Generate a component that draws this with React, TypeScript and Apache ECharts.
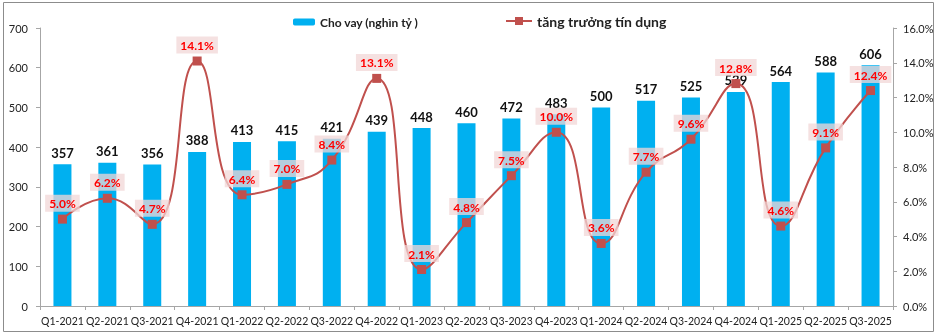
import React, { useEffect, useRef } from "react";
import * as echarts from "echarts";

const categories = [
  "Q1-2021", "Q2-2021", "Q3-2021", "Q4-2021",
  "Q1-2022", "Q2-2022", "Q3-2022", "Q4-2022",
  "Q1-2023", "Q2-2023", "Q3-2023", "Q4-2023",
  "Q1-2024", "Q2-2024", "Q3-2024", "Q4-2024",
  "Q1-2025", "Q2-2025", "Q3-2025",
];
const loans = [357, 361, 356, 388, 413, 415, 421, 439, 448, 460, 472, 483, 500, 517, 525, 539, 564, 588, 606];
const growth = [5.0, 6.2, 4.7, 14.1, 6.4, 7.0, 8.4, 13.1, 2.1, 4.8, 7.5, 10.0, 3.6, 7.7, 9.6, 12.8, 4.6, 9.1, 12.4];
const barName = "Cho vay (nghìn tỷ )";
const lineName = "tăng trưởng tín dụng";

const FONT = "Lato, 'Noto Sans', sans-serif";

export default function App() {
  const ref = useRef<HTMLDivElement>(null);
  useEffect(() => {
    const chart = echarts.init(ref.current!, null, { renderer: "svg" });
    chart.setOption({
      animation: false,
      textStyle: { fontFamily: FONT },
      graphic: [
        {
          type: "rect",
          shape: { x: 3.5, y: 2.5, width: 930, height: 329 },
          style: { fill: "none", stroke: "#8c8c8c", lineWidth: 1 },
          silent: true,
        },
      ],
      legend: [
        {
          data: [barName],
          left: 288,
          top: 11,
          itemWidth: 22,
          itemHeight: 7,
          itemGap: 4,
          textStyle: { fontSize: 12, fontWeight: "bold", color: "#222", fontFamily: FONT },
        },
        {
          data: [lineName],
          left: 500,
          top: 9,
          itemWidth: 26,
          itemHeight: 10,
          textStyle: { fontSize: 14, fontWeight: "bold", color: "#222", fontFamily: FONT },
        },
      ],
      grid: { left: 40, right: 46, top: 28, bottom: 30, containLabel: false },
      xAxis: {
        type: "category",
        data: categories,
        axisLine: { lineStyle: { color: "#a6a6a6" } },
        axisTick: { show: true, alignWithLabel: false, length: 4, lineStyle: { color: "#a6a6a6" } },
        axisLabel: { color: "#222", fontSize: 10.5, margin: 9, interval: 0 },
      },
      yAxis: [
        {
          type: "value",
          min: 0,
          max: 700,
          interval: 100,
          axisLine: { show: true, lineStyle: { color: "#a6a6a6" } },
          axisTick: { show: true, length: 4, lineStyle: { color: "#a6a6a6" } },
          splitLine: { show: false },
          axisLabel: { color: "#222", fontSize: 11, margin: 12 },
        },
        {
          type: "value",
          min: 0,
          max: 16,
          interval: 2,
          position: "right",
          axisLine: { show: true, lineStyle: { color: "#a6a6a6" } },
          axisTick: { show: true, length: 4, lineStyle: { color: "#a6a6a6" } },
          splitLine: { show: false },
          axisLabel: {
            color: "#222",
            fontSize: 11,
            margin: 10,
            formatter: (v: number) => v.toFixed(1) + "%",
          },
        },
      ],
      series: [
        {
          name: barName,
          type: "bar",
          data: loans,
          barWidth: 18,
          itemStyle: { color: "#00B0F0" },
          label: {
            show: true,
            position: "top",
            distance: 5,
            color: "#111",
            fontWeight: "bold",
            fontSize: 13,
            fontFamily: FONT,
          },
          z: 2,
        },
        {
          name: lineName,
          type: "line",
          yAxisIndex: 1,
          data: growth,
          smooth: 0.5,
          symbol: "rect",
          symbolSize: 9,
          lineStyle: { color: "#C0504D", width: 2 },
          itemStyle: { color: "#C0504D" },
          label: {
            show: true,
            position: "top",
            distance: 3,
            color: "#FF0000",
            fontWeight: "bold",
            fontSize: 12,
            fontFamily: FONT,
            backgroundColor: "rgba(242,215,215,0.75)",
            padding: [3, 4, 2, 4],
            formatter: (p: any) => Number(p.value).toFixed(1) + "%",
          },
          z: 5,
        },
      ],
    });
    return () => chart.dispose();
  }, []);
  return (
    <div
      ref={ref}
      style={{ position: "fixed", left: 0, top: 0, width: 939, height: 336 }}
    />
  );
}
